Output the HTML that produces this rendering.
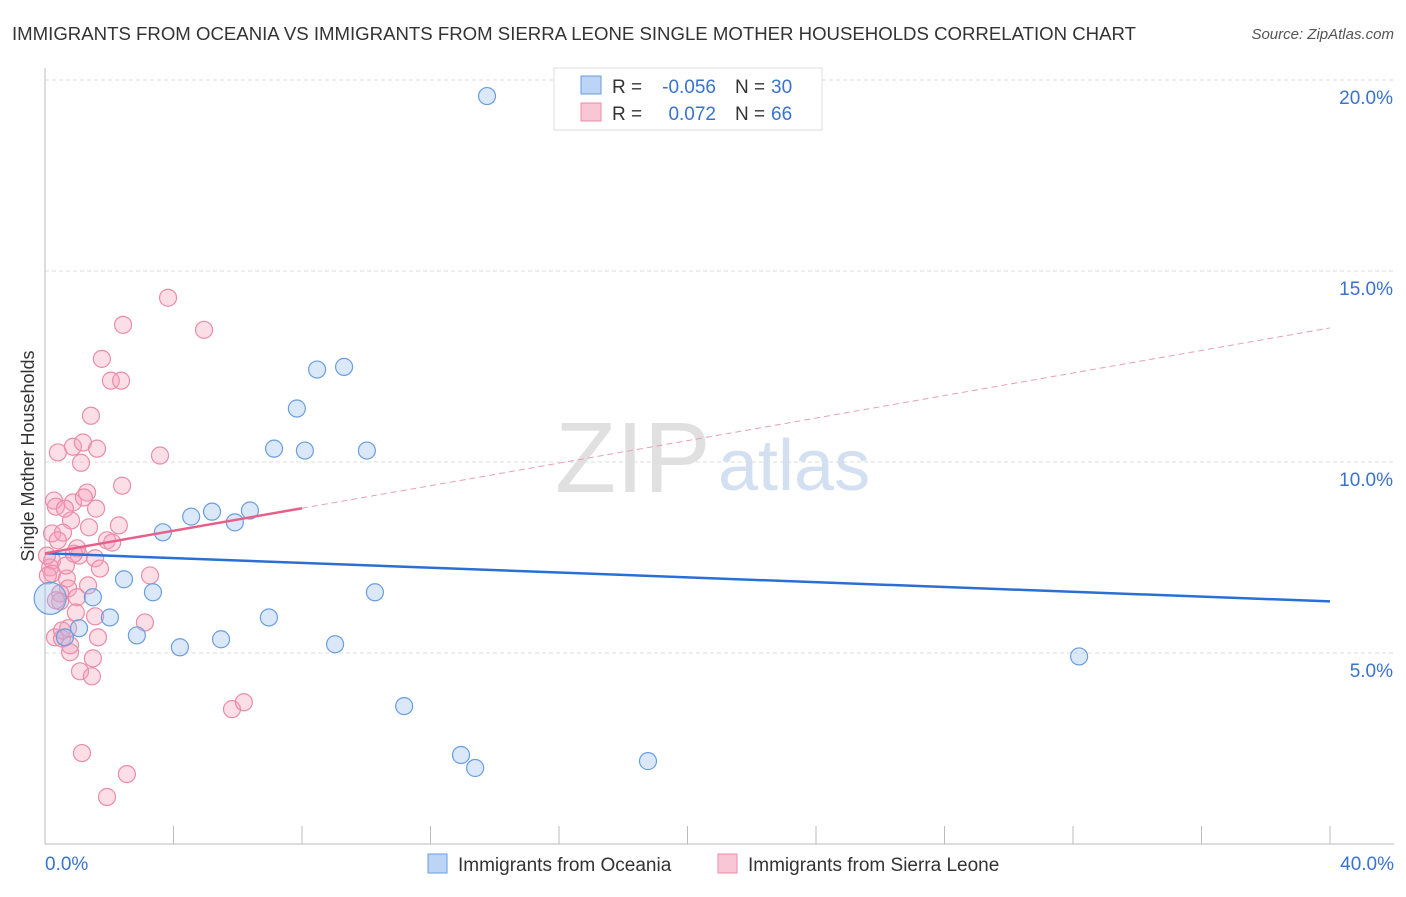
<!DOCTYPE html>
<html><head><meta charset="utf-8"><style>
body{margin:0;background:#fff;font-family:"Liberation Sans",sans-serif;}
svg text{font-family:"Liberation Sans",sans-serif;}
</style></head><body>
<svg id="chart" width="1406" height="892">
<text x="12" y="40" font-size="18" fill="#333" textLength="1124" lengthAdjust="spacingAndGlyphs">IMMIGRANTS FROM OCEANIA VS IMMIGRANTS FROM SIERRA LEONE SINGLE MOTHER HOUSEHOLDS CORRELATION CHART</text>
<text x="1394" y="39" font-size="15" fill="#555" font-style="italic" text-anchor="end">Source: ZipAtlas.com</text>
<text x="0" y="0" transform="translate(34,456) rotate(-90)" font-size="18" fill="#333" text-anchor="middle">Single Mother Households</text>
<g id="grid"></g>
<text x="555" y="492" font-size="100" fill="#e0e0e0" font-family="Liberation Serif">ZIP</text>
<text x="718" y="490" font-size="72" fill="#d3e0f2">atlas</text>
<g id="axes"></g>
<g id="marks"></g>
<g>
<rect x="554" y="68" width="268" height="62" fill="#fff" stroke="#ddd"/>
<rect x="581" y="76" width="20" height="18" fill="#bcd4f5" stroke="#6a9ee0"/>
<rect x="581" y="103" width="20" height="18" fill="#f9c6d5" stroke="#eb8ca8"/>
<text x="612" y="93" font-size="19" fill="#333">R =</text>
<text x="716" y="93" font-size="19" fill="#3a72d0" text-anchor="end">-0.056</text>
<text x="735" y="93" font-size="19" fill="#333">N =</text>
<text x="771" y="93" font-size="19" fill="#3a72d0">30</text>
<text x="612" y="120" font-size="19" fill="#333">R =</text>
<text x="716" y="120" font-size="19" fill="#3a72d0" text-anchor="end">0.072</text>
<text x="735" y="120" font-size="19" fill="#333">N =</text>
<text x="771" y="120" font-size="19" fill="#3a72d0">66</text>
</g>
<g>
<rect x="428" y="854" width="19" height="19" fill="#bcd4f5" stroke="#6a9ee0"/>
<text x="458" y="871" font-size="19" fill="#333">Immigrants from Oceania</text>
<rect x="718" y="854" width="19" height="19" fill="#f9c6d5" stroke="#eb8ca8"/>
<text x="748" y="871" font-size="19" fill="#333">Immigrants from Sierra Leone</text>
</g>
</svg>
<script>
const blueX=[13.76,8.47,9.31,7.84,7.13,8.09,10.02,4.55,5.20,6.38,5.91,3.67,2.46,3.36,1.49,2.02,1.06,0.62,2.86,4.20,5.48,6.97,9.03,10.27,11.18,12.95,13.39,18.77,32.19,0.16];
const blueY=[19.58,12.42,12.49,11.40,10.35,10.30,10.30,8.57,8.70,8.73,8.42,8.16,6.93,6.59,6.46,5.93,5.65,5.41,5.46,5.15,5.36,5.93,5.23,6.59,3.61,2.33,1.99,2.17,4.91,6.43];
const pinkX=[3.83,2.43,4.95,1.77,2.05,2.37,1.43,0.40,0.87,1.18,1.62,1.12,3.58,2.40,0.28,0.34,0.87,1.31,1.21,1.59,0.81,1.37,2.30,0.22,0.56,1.93,2.09,1.00,1.06,1.56,0.22,0.16,0.22,3.27,0.68,0.72,0.47,0.47,1.00,0.96,1.56,3.11,0.31,0.53,0.72,1.65,0.78,1.49,1.09,1.46,5.82,6.19,1.15,2.55,1.93,0.06,0.09,0.62,0.40,0.65,1.71,1.34,0.53,0.78,0.34,0.90];
const pinkY=[14.30,13.59,13.46,12.70,12.13,12.13,11.21,10.25,10.40,10.51,10.35,9.98,10.17,9.38,8.99,8.83,8.94,9.20,9.07,8.78,8.47,8.29,8.34,8.13,8.15,7.95,7.89,7.74,7.55,7.48,7.42,7.24,7.08,7.03,6.95,6.69,6.56,6.35,6.46,6.06,5.96,5.80,5.41,5.38,5.65,5.41,5.02,4.86,4.52,4.39,3.53,3.71,2.38,1.83,1.23,7.55,7.03,8.78,7.95,7.29,7.21,6.77,5.59,5.20,6.38,7.60];
const blueTrend=[7.61,6.35];
const pinkTrend=[7.61,13.51];
const pinkSolidEnd=8.0;
const xTicks=[0,4,8,12,16,20,24,28,32,36,40];
const yTicks=[5,10,15,20];
const yTickLabels=["5.0%","10.0%","15.0%","20.0%"];
const NS="http://www.w3.org/2000/svg";
const xs=v=>45+v*(1285/40);
const ys=v=>844-v*38.2;
function mk(t,a,p){const e=document.createElementNS(NS,t);for(const k in a)e.setAttribute(k,a[k]);p.appendChild(e);return e;}
const grid=document.getElementById('grid'),axes=document.getElementById('axes'),marks=document.getElementById('marks');
yTicks.forEach((v,i)=>{
 const l=mk('line',{x1:45,x2:1394,y1:ys(v),y2:ys(v),stroke:'#ddd','stroke-dasharray':'4,3'},grid);
 
 
 const t=mk('text',{x:1393,y:ys(v)+24,'font-size':19,fill:'#3a72d0','text-anchor':'end'},axes);
 t.textContent=yTickLabels[i];
 
 
});
const ya=mk('line',{x1:45,x2:45,y1:68,y2:844,stroke:'#bbb'},axes);


const xa=mk('line',{x1:45,x2:1394,y1:844,y2:844,stroke:'#bbb'},axes);


xTicks.forEach(v=>{
 const l=mk('line',{x1:xs(v),x2:xs(v),y1:826,y2:844,stroke:'#bbb'},axes);
 
 
});
const xl0=mk('text',{x:45,y:870,'font-size':19,fill:'#3a72d0'},axes);xl0.textContent='0.0%';


const xl1=mk('text',{x:1394,y:870,'font-size':19,fill:'#3a72d0','text-anchor':'end'},axes);xl1.textContent='40.0%';


pinkX.forEach((x,i)=>{
 const c=mk('circle',{cx:xs(x),cy:ys(pinkY[i]),r:8.5,fill:'rgba(245,160,185,0.35)',stroke:'#eb8ca8','stroke-width':1.2},marks);
 
 
});
blueX.forEach((x,i)=>{
 const big=(i===blueX.length-1);
 const c=mk('circle',{cx:xs(x),cy:ys(blueY[i]),r:big?16:8.5,fill:'rgba(150,190,240,0.35)',stroke:'#6a9ee0','stroke-width':1.2},marks);
 
 
});
const bt=mk('line',{x1:xs(0),y1:ys(blueTrend[0]),x2:xs(40),y2:ys(blueTrend[1]),stroke:'#2a6fd6','stroke-width':2.5},marks);


const pm=pinkTrend[0]+(pinkTrend[1]-pinkTrend[0])*pinkSolidEnd/40;
const pt=mk('line',{x1:xs(0),y1:ys(pinkTrend[0]),x2:xs(pinkSolidEnd),y2:ys(pm),stroke:'#e8608a','stroke-width':2.5},marks);


const pd=mk('line',{x1:xs(pinkSolidEnd),y1:ys(pm),x2:xs(40),y2:ys(pinkTrend[1]),stroke:'#e8a0b5','stroke-width':1,'stroke-dasharray':'6,4'},marks);


</script>
</body></html>
